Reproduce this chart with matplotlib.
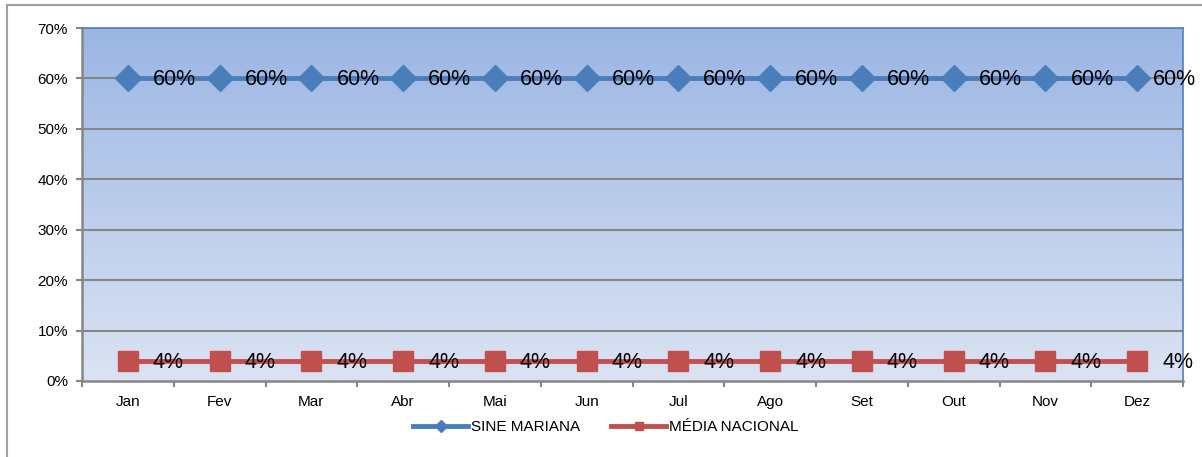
import matplotlib
matplotlib.use("Agg")
import matplotlib.pyplot as plt
import numpy as np
from matplotlib.lines import Line2D
from matplotlib.colors import LinearSegmentedColormap

months = ["Jan", "Fev", "Mar", "Abr", "Mai", "Jun", "Jul", "Ago", "Set", "Out", "Nov", "Dez"]
sine_mariana = [60, 60, 60, 60, 60, 60, 60, 60, 60, 60, 60, 60]
media_nacional = [4, 4, 4, 4, 4, 4, 4, 4, 4, 4, 4, 4]
yticks = [0, 10, 20, 30, 40, 50, 60, 70]

plt.rcParams['font.family'] = ['Liberation Sans', 'DejaVu Sans']

W, H = 1202, 457
fig = plt.figure(figsize=(W / 100, H / 100), dpi=100)
ax = fig.add_axes([82 / W, 1 - 381 / H, (1183 - 82) / W, (381 - 28) / H])

x = np.arange(len(months))
ax.set_xlim(-0.5, len(months) - 0.5)
ax.set_ylim(0, 70)

# gradient background
cmap = LinearSegmentedColormap.from_list("bg", ["#dbe3f3", "#9bb6e4"])
grad = np.linspace(0, 1, 256).reshape(-1, 1)
ax.imshow(grad, aspect="auto", cmap=cmap, origin="lower",
          extent=[0, 1, 0, 1], transform=ax.transAxes, zorder=0)

for yv in yticks[1:]:
    ax.axhline(yv, color="#868686", lw=1.5, zorder=1)

blue = "#4a7ebb"
red = "#c0504d"
ax.plot(x, sine_mariana, color=blue, lw=3.5, marker="D", markersize=13,
        markeredgecolor=blue, zorder=3, label="SINE MARIANA")
ax.plot(x, media_nacional, color=red, lw=3.5, marker="s", markersize=14,
        markeredgecolor=red, zorder=3, label="MÉDIA NACIONAL")

n = len(months)
for xi, v in zip(x, sine_mariana):
    off = 18 if xi < n - 1 else 11.5
    ax.annotate(f"{v}%", (xi, v), xytext=(off, -1), textcoords="offset points",
                ha="left", va="center", fontsize=15.5, color="black", zorder=4,
                annotation_clip=False)
for xi, v in zip(x, media_nacional):
    ax.annotate(f"{v}%", (xi, v), xytext=(18, -1), textcoords="offset points",
                ha="left", va="center", fontsize=15.5, color="black", zorder=4,
                annotation_clip=False)

ax.set_yticks(yticks)
ax.set_yticklabels([f"{v}%" for v in yticks], fontsize=11)
ax.set_xticks(x)
ax.set_xticklabels(months, fontsize=11, va="baseline")
ax.set_xticks(np.arange(-0.5, n), minor=True)
ax.tick_params(axis="x", which="major", length=0, pad=18)
ax.tick_params(axis="x", which="minor", length=4, color="#868686", width=1.5)
ax.tick_params(axis="y", length=4, color="#868686", width=1.5, pad=6)

for s in ["left", "bottom"]:
    ax.spines[s].set_color("#868686")
    ax.spines[s].set_linewidth(1.8)
for s in ["top", "right"]:
    ax.spines[s].set_color("#4f81bd")
    ax.spines[s].set_linewidth(1.2)

leg = ax.legend(loc="center", bbox_to_anchor=(0.476, -0.13), ncol=2,
                frameon=False, fontsize=11, handlelength=3.6, columnspacing=2.0,
                handletextpad=0.2, markerscale=0.45)

# outer chart border
fig.add_artist(Line2D([7 / W, 7 / W], [0, 1 - 5 / H], color="#a0a0a0", lw=1.5,
                      transform=fig.transFigure))
fig.add_artist(Line2D([7 / W, 1], [1 - 5 / H, 1 - 5 / H], color="#a0a0a0", lw=1.5,
                      transform=fig.transFigure))

fig.savefig("out.png", dpi=100)
